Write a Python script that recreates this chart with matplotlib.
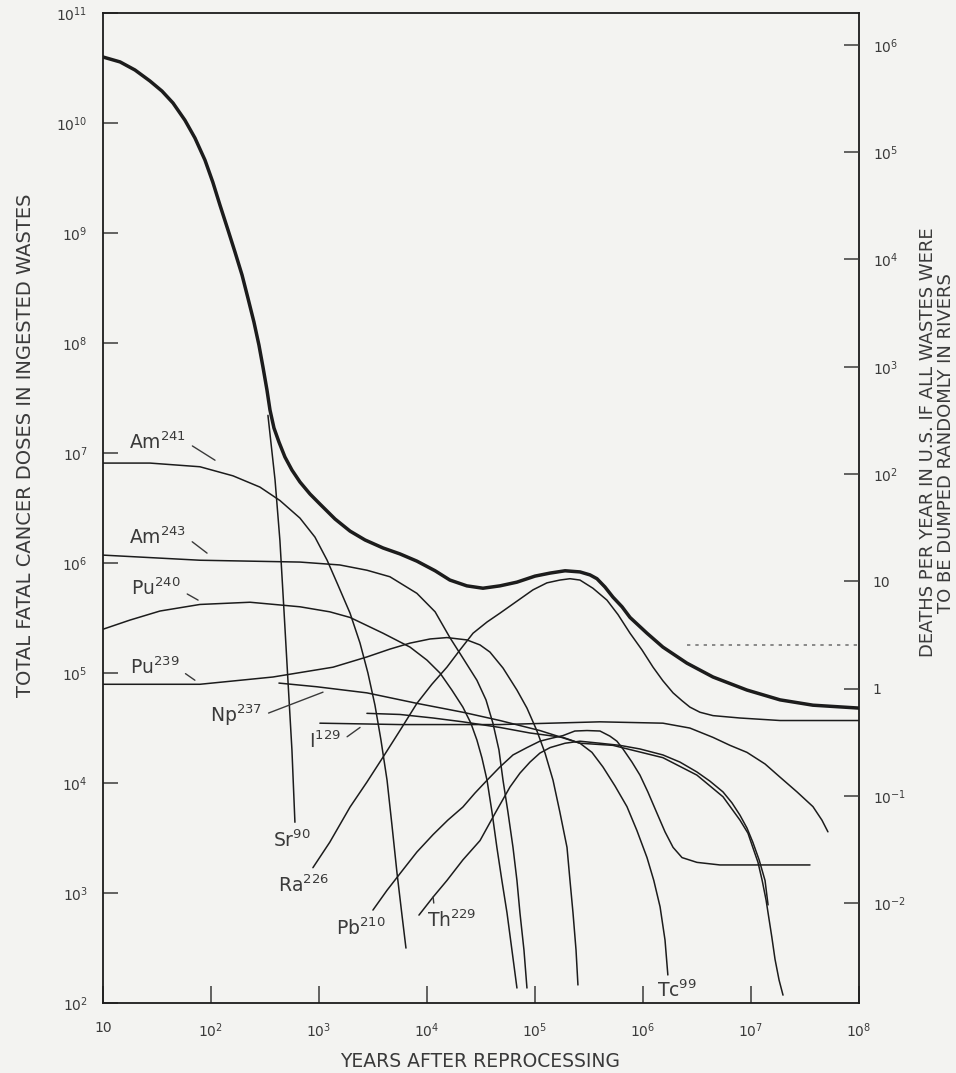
import numpy as np
import matplotlib.pyplot as plt
from matplotlib.ticker import NullLocator

plt.rcParams['font.family'] = 'DejaVu Sans'
plt.rcParams['mathtext.fontset'] = 'dejavusans'

# values (years after reprocessing, fatal cancer doses)
total_yr = [10, 14.4, 19.8, 27.2, 35.2, 44.5, 57.4, 71.1, 88, 104, 121, 144, 167, 194, 220,
            250, 278, 303, 330, 352, 383, 426, 484, 562, 667, 826, 1020, 1410, 1940, 2670,
            3920, 5620, 8070, 11900, 16300, 23400, 33000, 47400, 68100, 100000, 138000,
            190000, 261000, 323000, 375000, 445000, 527000, 640000, 759000, 1.09e6, 1.53e6,
            2.55e6, 4.45e6, 9.18e6, 1.86e7, 3.75e7, 1e8]
total_dose = [3.98e10, 3.59e10, 3.03e10, 2.41e10, 1.95e10, 1.52e10, 1.06e10, 7.3e9, 4.6e9,
              2.9e9, 1.8e9, 1.06e9, 6.7e8, 4.15e8, 2.56e8, 1.55e8, 9.6e7, 6.05e7, 3.74e7,
              2.46e7, 1.69e7, 1.26e7, 9.2e6, 7.0e6, 5.45e6, 4.24e6, 3.44e6, 2.51e6, 1.95e6,
              1.62e6, 1.37e6, 1.21e6, 1.04e6, 8.5e5, 7.0e5, 6.2e5, 5.9e5, 6.2e5, 6.7e5,
              7.6e5, 8.1e5, 8.5e5, 8.3e5, 7.8e5, 7.2e5, 6.05e5, 4.9e5, 4.0e5, 3.2e5, 2.3e5,
              1.72e5, 1.23e5, 9.2e4, 7.0e4, 5.7e4, 5.1e4, 4.8e4]

am241_yr = [10, 27.2, 79, 160, 284, 435, 667, 918, 1190, 1500, 1940, 2400, 2840, 3300,
            3750, 4270, 4740, 5280, 5870, 6390]
am241_dose = [8.1e6, 8.1e6, 7.5e6, 6.2e6, 4.9e6, 3.7e6, 2.56e6, 1.72e6, 1.06e6, 6.3e5,
              3.5e5, 1.87e5, 1.0e5, 5.1e4, 2.46e4, 1.06e4, 4.15e3, 1.52e3, 630, 316]

sr90_yr = [337, 392, 435, 474, 516, 562, 599]
sr90_dose = [2.2e7, 5.7e6, 1.6e6, 3.74e5, 8.6e4, 2.0e4, 4.4e3]

am243_yr = [10, 79, 667, 1560, 2780, 4540, 8070, 11900, 16300, 21500, 29000, 35200, 40800,
            46400, 50600, 56200, 62600, 68100, 72600, 79100, 84300]
am243_dose = [1.18e6, 1.06e6, 1.02e6, 9.6e5, 8.6e5, 7.5e5, 5.3e5, 3.6e5, 2.1e5, 1.37e5,
              8.6e4, 5.7e4, 3.5e4, 2.0e4, 1.06e4, 5.45e3, 2.6e3, 1.3e3, 660, 303, 137]

pu240_yr = [10, 17.8, 33.7, 79, 230, 667, 1260, 1940, 3920, 6970, 10000, 13200, 17000,
            21500, 25500, 29000, 32300, 36000, 40000, 44400, 49400, 55100, 61200, 68100]
pu240_dose = [2.5e5, 3.03e5, 3.66e5, 4.2e5, 4.4e5, 4.0e5, 3.6e5, 3.2e5, 2.3e5, 1.72e5,
              1.31e5, 1.0e5, 7.0e4, 4.9e4, 3.5e4, 2.46e4, 1.69e4, 1.06e4, 5.45e3, 2.6e3,
              1.3e3, 660, 303, 137]

pu239_yr = [10, 79, 375, 1350, 2780, 4540, 6970, 10700, 15300, 23400, 31000, 38300, 50600,
            68100, 84300, 104000, 124000, 147000, 170000, 198000, 211000, 225000, 240000,
            250000]
pu239_dose = [7.9e4, 7.9e4, 9.2e4, 1.13e5, 1.4e5, 1.65e5, 1.87e5, 2.04e5, 2.1e5, 2.0e5,
              1.8e5, 1.55e5, 1.11e5, 7.0e4, 4.8e4, 3.0e4, 1.87e4, 1.06e4, 5.45e3, 2.6e3,
              1.3e3, 660, 303, 146]

np237_yr = [426, 957, 2780, 8070, 21500, 47400, 111000, 261000, 527000, 1.53e6, 3.16e6,
            5.51e6, 7.91e6, 9.38e6, 1.04e7, 1.16e7, 1.27e7, 1.38e7, 1.44e7, 1.56e7, 1.67e7,
            1.82e7, 1.98e7]
np237_dose = [8.1e4, 7.5e4, 6.6e4, 5.3e4, 4.4e4, 3.7e4, 3.0e4, 2.3e4, 2.2e4, 1.7e4, 1.18e4,
              7.5e3, 4.6e3, 3.5e3, 2.6e3, 1.91e3, 1.3e3, 863, 660, 398, 250, 162, 118]

i129_yr = [1020, 5620, 47400, 400000, 1.53e6, 2.72e6, 4.45e6, 6.40e6, 9.18e6, 1.35e7,
           1.86e7, 2.67e7, 3.75e7, 4.54e7, 5.16e7]
i129_dose = [3.5e4, 3.4e4, 3.4e4, 3.6e4, 3.5e4, 3.16e4, 2.6e4, 2.2e4, 1.9e4, 1.49e4,
             1.13e4, 8.3e3, 6.1e3, 4.6e3, 3.6e3]

ra226_yr = [879, 1260, 1940, 2780, 3920, 5620, 8070, 11100, 15300, 20200, 26700, 36000,
            47400, 68100, 95800, 129000, 170000, 211000, 261000, 344000, 464000, 587000,
            759000, 980000, 1.24e6, 1.53e6, 1.90e6, 2.30e6, 2.72e6, 3.37e6, 4.45e6, 7.91e6,
            1.86e7, 1e8]
ra226_dose = [1.7e3, 2.9e3, 6.05e3, 1.02e4, 1.72e4, 3.0e4, 5.3e4, 7.9e4, 1.13e5, 1.62e5,
              2.3e5, 2.91e5, 3.5e5, 4.5e5, 5.7e5, 6.6e5, 7.0e5, 7.2e5, 7.0e5, 5.9e5, 4.6e5,
              3.4e5, 2.3e5, 1.62e5, 1.13e5, 8.5e4, 6.6e4, 5.6e4, 4.9e4, 4.4e4, 4.1e4, 3.9e4,
              3.7e4, 3.7e4]

pb210_yr = [3160, 4270, 5620, 8070, 11400, 15600, 21500, 27800, 36000, 47400, 62600, 84300,
            111000, 144000, 182000, 234000, 303000, 400000, 494000, 574000, 653000, 791000,
            938000, 1.11e6, 1.35e6, 1.60e6, 1.90e6, 2.30e6, 3.16e6, 5.16e6, 9.18e6, 3.52e7]
pb210_dose = [700, 1.06e3, 1.5e3, 2.36e3, 3.4e3, 4.6e3, 6.05e3, 8.1e3, 1.06e4, 1.4e4,
              1.8e4, 2.1e4, 2.4e4, 2.56e4, 2.7e4, 2.97e4, 3.0e4, 2.97e4, 2.67e4, 2.4e4,
              2.04e4, 1.55e4, 1.18e4, 8.3e3, 5.3e3, 3.6e3, 2.6e3, 2.1e3, 1.9e3, 1.8e3, 1.8e3,
              1.8e3]

th229_yr = [8430, 11400, 15300, 21500, 31000, 42700, 58700, 72600, 89900, 111000, 138000,
            190000, 261000, 400000, 612000, 938000, 1.53e6, 2.20e6, 3.16e6, 4.17e6, 5.51e6,
            6.67e6, 7.91e6, 9.18e6, 1.04e7, 1.19e7, 1.35e7, 1.44e7]
th229_dose = [630, 920, 1.3e3, 2.0e3, 3.0e3, 5.3e3, 9.2e3, 1.23e4, 1.55e4, 1.87e4, 2.1e4,
              2.3e4, 2.4e4, 2.3e4, 2.2e4, 2.04e4, 1.8e4, 1.55e4, 1.26e4, 1.04e4, 8.3e3,
              6.6e3, 5.1e3, 3.9e3, 2.9e3, 2.0e3, 1.3e3, 780]

tc99_yr = [2780, 5620, 11400, 21500, 47400, 89900, 182000, 261000, 337000, 426000, 551000,
           711000, 879000, 1.09e6, 1.26e6, 1.44e6, 1.60e6, 1.70e6]
tc99_dose = [4.3e4, 4.2e4, 3.9e4, 3.6e4, 3.2e4, 2.85e4, 2.6e4, 2.3e4, 1.9e4, 1.4e4, 9.4e3,
             6.1e3, 3.7e3, 2.1e3, 1.3e3, 750, 374, 180]

faint_yr = [2.55e6, 1e8]
faint_dose = [1.8e5, 1.8e5]

left_ticks = [1e2, 1e3, 1e4, 1e5, 1e6, 1e7, 1e8, 1e9, 1e10, 1e11]
left_labels = ['$10^{%d}$' % k for k in range(2, 12)]
x_ticks = [1e1, 1e2, 1e3, 1e4, 1e5, 1e6, 1e7, 1e8]
x_labels = ['10'] + ['$10^{%d}$' % k for k in range(2, 9)]
right_ticks = [1e6, 1e5, 1e4, 1e3, 1e2, 10, 1, 1e-1, 1e-2]
right_labels = ['$10^{6}$', '$10^{5}$', '$10^{4}$', '$10^{3}$', '$10^{2}$', '10', '1',
                '$10^{-1}$', '$10^{-2}$']

ink = '#1c1c1c'
grey = '#3a3a3a'
paper = '#f3f3f1'

fig = plt.figure(figsize=(9.56, 10.73), dpi=100, facecolor=paper)
ax = fig.add_axes([0.1077, 0.0652, 0.7908, 0.9227], facecolor=paper)
ax.set_xscale('log')
ax.set_yscale('log')
ax.set_xlim(10, 1e8)
ax.set_ylim(1e2, 1e11)

thin = [(am241_yr, am241_dose), (sr90_yr, sr90_dose), (am243_yr, am243_dose),
        (pu240_yr, pu240_dose), (pu239_yr, pu239_dose), (np237_yr, np237_dose),
        (i129_yr, i129_dose), (ra226_yr, ra226_dose), (pb210_yr, pb210_dose),
        (th229_yr, th229_dose), (tc99_yr, tc99_dose)]
for xs, ys in thin:
    ax.plot(xs, ys, color=ink, lw=1.1, solid_capstyle='round', solid_joinstyle='round')
ax.plot(total_yr, total_dose, color=ink, lw=2.5, solid_joinstyle='round',
        solid_capstyle='round')
ax.plot(faint_yr, faint_dose, color='#777777', lw=1.2, ls=(0, (2, 3)))

ax.set_xticks(x_ticks, x_labels)
ax.set_yticks(left_ticks, left_labels)
ax.xaxis.set_minor_locator(NullLocator())
ax.yaxis.set_minor_locator(NullLocator())
ax.tick_params(axis='y', direction='in', length=11, width=1.1, pad=11, labelsize=10,
               colors=grey, right=False)
ax.tick_params(axis='x', direction='in', length=12, width=1.1, pad=13, labelsize=10,
               colors=grey, top=False)
for s in ax.spines.values():
    s.set_color(ink)
    s.set_linewidth(1.3)

ax2 = ax.twinx()
ax2.set_yscale('log')
ax2.set_ylim(10 ** -2.932, 10 ** 6.298)
ax2.set_yticks(right_ticks, right_labels)
ax2.yaxis.set_minor_locator(NullLocator())
ax2.tick_params(axis='y', direction='in', length=11, width=1.1, pad=10, labelsize=10,
                colors=grey)
for s in ax2.spines.values():
    s.set_visible(False)

ax.set_xlabel('YEARS AFTER REPROCESSING', fontsize=13.5, color=grey)
ax.xaxis.set_label_coords(0.499, -0.0495)
ax.set_ylabel('TOTAL FATAL CANCER DOSES IN INGESTED WASTES', fontsize=14, color=grey)
ax.yaxis.set_label_coords(-0.0899, 0.5636)
ax2.set_ylabel('DEATHS PER YEAR IN U.S. IF ALL WASTES WERE\nTO BE DUMPED RANDOMLY IN RIVERS',
               fontsize=13, color=grey, linespacing=1.0, multialignment='center')
ax2.yaxis.set_label_coords(1.0794, 0.566)

lab = dict(fontsize=13.5, color=grey, ha='center', va='center')
lead = dict(arrowstyle='-', color=grey, lw=1.0, shrinkA=3, shrinkB=0)
ax.annotate('Am$^{241}$', xy=(109, 8.6e6), xytext=(32, 1.26e7),
            arrowprops=dict(lead, relpos=(1, 0.5)), **lab)
ax.annotate('Am$^{243}$', xy=(92, 1.23e6), xytext=(32, 1.72e6),
            arrowprops=dict(lead, relpos=(1, 0.5)), **lab)
ax.annotate('Pu$^{240}$', xy=(76, 4.6e5), xytext=(31, 5.9e5),
            arrowprops=dict(lead, relpos=(1, 0.4)), **lab)
ax.annotate('Pu$^{239}$', xy=(71, 8.6e4), xytext=(30, 1.13e5),
            arrowprops=dict(lead, relpos=(1, 0.4)), **lab)
ax.annotate('Np$^{237}$', xy=(1090, 6.7e4), xytext=(170, 4.1e4),
            arrowprops=dict(lead, relpos=(1, 0.5)), **lab)
ax.annotate('I$^{129}$', xy=(2400, 3.2e4), xytext=(1140, 2.4e4),
            arrowprops=dict(lead, relpos=(1, 0.5)), **lab)
ax.annotate('Th$^{229}$', xy=(11400, 920), xytext=(17000, 560),
            arrowprops=dict(lead, relpos=(0.15, 1)), **lab)
ax.text(562, 3.0e3, 'Sr$^{90}$', **lab)
ax.text(711, 1.18e3, 'Ra$^{226}$', **lab)
ax.text(2450, 480, 'Pb$^{210}$', **lab)
ax.text(2.07e6, 131, 'Tc$^{99}$', **lab)

fig.savefig('out.png', dpi=100, facecolor=paper)
